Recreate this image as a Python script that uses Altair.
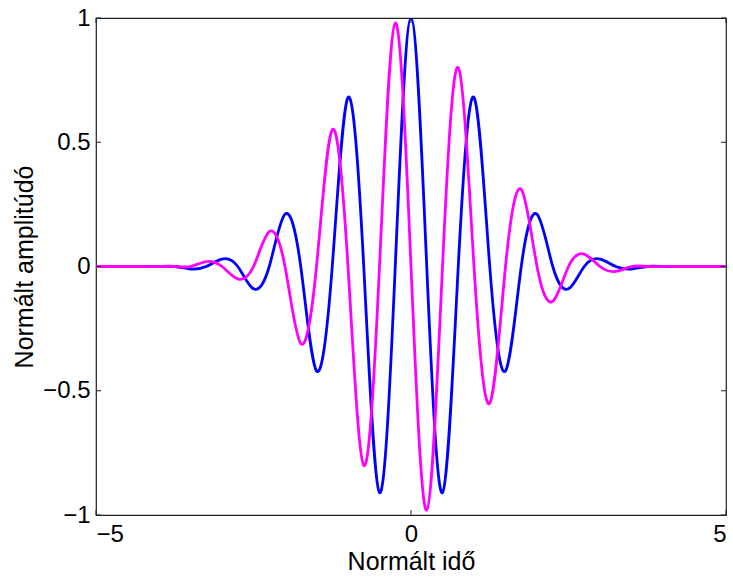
import altair as alt
import pandas as pd

# sample positions (normalised time)
t = [-5.0, -4.75, -4.5, -4.25, -4.0, -3.75, -3.5, -3.25, -3.0, -2.75, -2.5,
     -2.25, -2.0, -1.75, -1.5, -1.25, -1.0, -0.75, -0.5, -0.25, 0.0,
     0.25, 0.5, 0.75, 1.0, 1.25, 1.5, 1.75, 2.0, 2.25, 2.5,
     2.75, 3.0, 3.25, 3.5, 3.75, 4.0, 4.25, 4.5, 4.75, 5.0]

# blue curve (peaks / troughs / zero crossings)
blue = [0, 0, 0, 0, 0, 0, -0.01, 0, 0.03, 0, -0.09,
        0, 0.21, 0, -0.42, 0, 0.68, 0, -0.91, 0, 1.0,
        0, -0.91, 0, 0.68, 0, -0.42, 0, 0.21, 0, -0.09,
        0, 0.03, 0, -0.01, 0, 0, 0, 0, 0, 0]

# magenta curve
magenta = [0, 0, 0, 0, 0, 0, 0, 0.02, 0, -0.05, 0,
           0.14, 0, -0.31, 0, 0.55, 0, -0.80, 0, 0.98, 0,
           -0.98, 0, 0.80, 0, -0.55, 0, 0.31, 0, -0.14, 0,
           0.05, 0, -0.02, 0, 0, 0, 0, 0, 0, 0]

x_ticks = [-5, 0, 5]
y_ticks = [-1, -0.5, 0, 0.5, 1]

W, H = 630, 497
TICK = 5
FONT = "Liberation Sans"

df = pd.DataFrame({"t": t, "blue": blue, "magenta": magenta})
xt = pd.DataFrame({"v": x_ticks})
yt = pd.DataFrame({"v": y_ticks})

xs = alt.Scale(domain=[-5, 5], nice=False, zero=False)
ys = alt.Scale(domain=[-1, 1], nice=False, zero=False)

x_axis = alt.Axis(values=x_ticks, format="~g", title="Normált idő", ticks=False,
                  domain=False, grid=False, labelPadding=7, titlePadding=3,
                  labelFontSize=24, titleFontSize=25, labelFont=FONT, titleFont=FONT,
                  labelColor="black", titleColor="black", titleFontWeight="normal")
y_axis = alt.Axis(values=y_ticks, format="~g", title="Normált amplitúdó", ticks=False,
                  domain=False, grid=False, labelPadding=6, titlePadding=5,
                  labelFontSize=24, titleFontSize=25, labelFont=FONT, titleFont=FONT,
                  labelColor="black", titleColor="black", titleFontWeight="normal")

blue_line = alt.Chart(df).mark_line(
    color="#0000ff", strokeWidth=2.8, interpolate="natural", clip=True
).encode(
    x=alt.X("t:Q", scale=xs, axis=x_axis),
    y=alt.Y("blue:Q", scale=ys, axis=y_axis),
)

magenta_line = alt.Chart(df).mark_line(
    color="#ff00ff", strokeWidth=2.8, interpolate="natural", clip=True
).encode(
    x=alt.X("t:Q", scale=xs, axis=x_axis),
    y=alt.Y("magenta:Q", scale=ys, axis=y_axis),
)

tick_col = "#222222"
x_bottom = alt.Chart(xt).mark_rule(color=tick_col, strokeWidth=1).encode(
    x=alt.X("v:Q", scale=xs, axis=x_axis), y=alt.value(H), y2=alt.value(H - TICK))
x_top = alt.Chart(xt).mark_rule(color=tick_col, strokeWidth=1).encode(
    x=alt.X("v:Q", scale=xs, axis=x_axis), y=alt.value(0), y2=alt.value(TICK))
y_left = alt.Chart(yt).mark_rule(color=tick_col, strokeWidth=1).encode(
    y=alt.Y("v:Q", scale=ys, axis=y_axis), x=alt.value(0), x2=alt.value(TICK))
y_right = alt.Chart(yt).mark_rule(color=tick_col, strokeWidth=1).encode(
    y=alt.Y("v:Q", scale=ys, axis=y_axis), x=alt.value(W), x2=alt.value(W - TICK))

chart = alt.layer(
    blue_line, magenta_line, x_bottom, x_top, y_left, y_right
).properties(
    width=W, height=H,
    autosize=alt.AutoSizeParams(type="none"),
    padding={"left": 96, "top": 18, "right": 7, "bottom": 62},
    background="white",
).configure_view(
    stroke=tick_col, strokeWidth=1.2
)

chart.save("out.html", embed_options={"renderer": "svg", "actions": False})
